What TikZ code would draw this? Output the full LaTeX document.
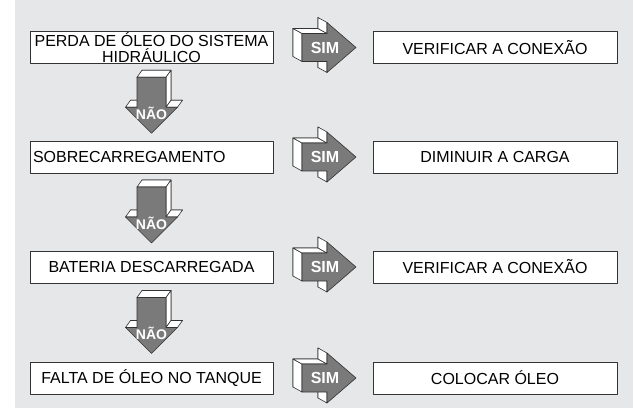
\documentclass[tikz,border=0pt]{standalone}
\usepackage{fontspec}
\setmainfont{Liberation Sans}
\usetikzlibrary{calc}
\definecolor{ChartPanel}{RGB}{230,231,232}
\definecolor{ChartInk}{gray}{0.2}
\definecolor{ChartFace}{gray}{0.48}
\tikzset{
    chart/diagram/.style={
        x=1pt, y=-1pt,
        line join=round,
        every node/.style={inner sep=0pt, outer sep=0pt}
    },
    chart/box/.style={
        draw=ChartInk, fill=white, line width=0.9pt,
        minimum width=243pt, minimum height=32pt, align=center,
        font=\fontsize{16}{16}\selectfont
    },
    chart/side/.style={draw=ChartInk, fill=white, line width=0.6pt},
    chart/front/.style={draw=ChartInk, fill=ChartFace, line width=0.6pt},
    chart/answer/.style={text=white, font=\bfseries\fontsize{16}{16}\selectfont},
    chart/yes/.pic={
        % back first, then the sides seen from the upper left, then the front
        \path[chart/side] (-30,-19) -- (-5,-19) -- (-5,-30) -- (24,-5)
            -- (-5,20) -- (-5,9) -- (-30,9) -- cycle;
        \path[chart/side] (-21,-14) -- (-21,14) -- (-30,9) -- (-30,-19) -- cycle;
        \path[chart/side] (-21,-14) -- (4,-14) -- (-5,-19) -- (-30,-19) -- cycle;
        \path[chart/side] (4,-14) -- (4,-25) -- (-5,-30) -- (-5,-19) -- cycle;
        \path[chart/side] (4,14) -- (4,25) -- (-5,20) -- (-5,9) -- cycle;
        \path[chart/front] (-21,-14) -- (4,-14) -- (4,-25) -- (33,0)
            -- (4,25) -- (4,14) -- (-21,14) -- cycle;
        \node[chart/answer] (-label) at (2,0) {SIM};
    },
    chart/no/.pic={
        % back first, then the sides seen from the upper right, then the front
        \path[chart/side] (-9.5,-32) -- (19.5,-32) -- (19.5,-2) -- (31,-2)
            -- (5,24) -- (-21,-2) -- (-9.5,-2) -- cycle;
        \path[chart/side] (-14.5,-25) -- (14.5,-25) -- (19.5,-32) -- (-9.5,-32) -- cycle;
        \path[chart/side] (14.5,-25) -- (14.5,5) -- (19.5,-2) -- (19.5,-32) -- cycle;
        \path[chart/side] (-26,5) -- (-14.5,5) -- (-9.5,-2) -- (-21,-2) -- cycle;
        \path[chart/side] (14.5,5) -- (26,5) -- (31,-2) -- (19.5,-2) -- cycle;
        \path[chart/front] (-14.5,-25) -- (14.5,-25) -- (14.5,5) -- (26,5)
            -- (0,31) -- (-26,5) -- (-14.5,5) -- cycle;
        \node[chart/answer, font=\bfseries\fontsize{14}{14}\selectfont]
            (-label) at (0,11) {NÃO};
    }
}
\begin{document}
\begin{tikzpicture}[chart/diagram]
    \useasboundingbox (0,0) rectangle (635,409);
    \fill[ChartPanel] (15,0) rectangle (633,408);
    % causes
    \node[chart/box] (c1) at (151.5,47.5) {PERDA DE ÓLEO DO SISTEMA\\HIDRÁULICO};
    \node[chart/box, text width=237pt, align=left] (c2) at (151.5,157) {SOBRECARREGAMENTO};
    \node[chart/box] (c3) at (151.5,267) {BATERIA DESCARREGADA};
    \node[chart/box] (c4) at (151.5,378) {FALTA DE ÓLEO NO TANQUE};
    % remedies
    \node[chart/box, minimum width=244pt] (r1) at (495,47.5) {VERIFICAR A CONEXÃO};
    \node[chart/box, minimum width=244pt] (r2) at (495,157) {DIMINUIR A CARGA};
    \node[chart/box, minimum width=244pt] (r3) at (495,267) {VERIFICAR A CONEXÃO};
    \node[chart/box, minimum width=244pt] (r4) at (495,378) {COLOCAR ÓLEO};
    % answers
    \pic (y1) at ($(c1.east)!0.5!(r1.west)$) {chart/yes};
    \pic (y2) at ($(c2.east)!0.5!(r2.west)$) {chart/yes};
    \pic (y3) at ($(c3.east)!0.5!(r3.west)$) {chart/yes};
    \pic (y4) at ($(c4.east)!0.5!(r4.west)$) {chart/yes};
    \pic (n1) at ($(c1.south)!0.5!(c2.north)$) {chart/no};
    \pic (n2) at ($(c2.south)!0.5!(c3.north)$) {chart/no};
    \pic (n3) at ($(c3.south)!0.5!(c4.north)$) {chart/no};
\end{tikzpicture}
\end{document}
